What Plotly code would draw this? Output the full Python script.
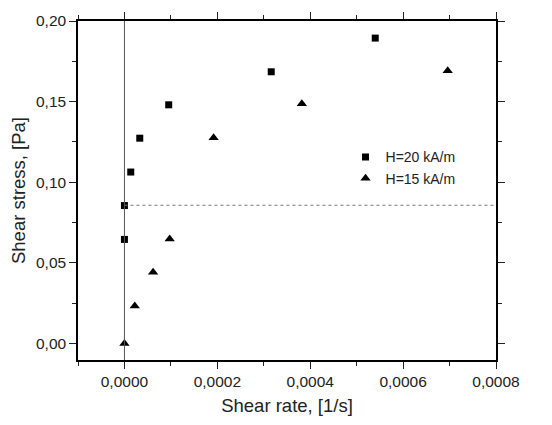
import plotly.graph_objects as go

# Data
h20_rate = [0.0, 0.0, 0.0000136, 0.000033, 0.0000953, 0.000316, 0.00054]
h20_stress = [0.0645, 0.0855, 0.1063, 0.1273, 0.148, 0.1685, 0.1894]
h15_rate = [0.0, 0.0000222, 0.0000617, 0.0000974, 0.000192, 0.000382, 0.000696]
h15_stress = [0.0, 0.0232, 0.0441, 0.0648, 0.1275, 0.1486, 0.1691]
yield_stress = 0.0857
x_range = [-0.0001, 0.0008]
y_range = [-0.0103, 0.2]

font_family = "Liberation Sans, Arial, sans-serif"
axis_color = "#222222"

fig = go.Figure()
fig.add_trace(go.Scatter(x=h20_rate, y=h20_stress, mode="markers", name="H=20 kA/m",
                         marker=dict(symbol="square", size=7, color="black")))
fig.add_trace(go.Scatter(x=h15_rate, y=h15_stress, mode="markers", name="H=15 kA/m",
                         marker=dict(symbol="triangle-up", size=9, color="black")))

# vertical line at zero shear rate and dotted horizontal line
fig.add_shape(type="line", xref="x", yref="paper", x0=0, x1=0, y0=0, y1=1,
              line=dict(color="#555555", width=1))
fig.add_shape(type="line", xref="x", yref="y", x0=0, x1=x_range[1], y0=yield_stress, y1=yield_stress,
              line=dict(color="#777777", width=1.2, dash="dot"))

common = dict(showgrid=False, zeroline=False, showline=True, mirror="ticks",
              linecolor="black", linewidth=1.5, tickcolor=axis_color, tickwidth=1.2)

fig.update_layout(
    width=552, height=425,
    margin=dict(l=78, r=56, t=17, b=64),
    paper_bgcolor="white", plot_bgcolor="white",
    separators=",.",
    font=dict(family=font_family, color="#222222"),
    showlegend=True,
    legend=dict(x=0.64, y=0.645, xanchor="left", yanchor="top", bgcolor="rgba(0,0,0,0)",
                font=dict(size=14, color="#222222"), itemwidth=30, tracegroupgap=0),
    xaxis=dict(range=x_range, dtick=0.0002, tick0=0, tickformat=".4f", ticks="outside", ticklen=7,
               minor=dict(dtick=0.0001, tick0=0, ticks="outside", ticklen=4, tickcolor=axis_color),
               title=dict(text="Shear rate, [1/s]", font=dict(size=18.5), standoff=10),
               tickfont=dict(size=15.5), **common),
    yaxis=dict(range=y_range, dtick=0.05, tick0=0, tickformat=".2f", ticks="outside", ticklen=7,
               minor=dict(dtick=0.025, tick0=0, ticks="outside", ticklen=4, tickcolor=axis_color),
               title=dict(text="Shear stress, [Pa]", font=dict(size=18.5), standoff=6),
               tickfont=dict(size=15.5), **common),
)

fig.write_html("out.html")
